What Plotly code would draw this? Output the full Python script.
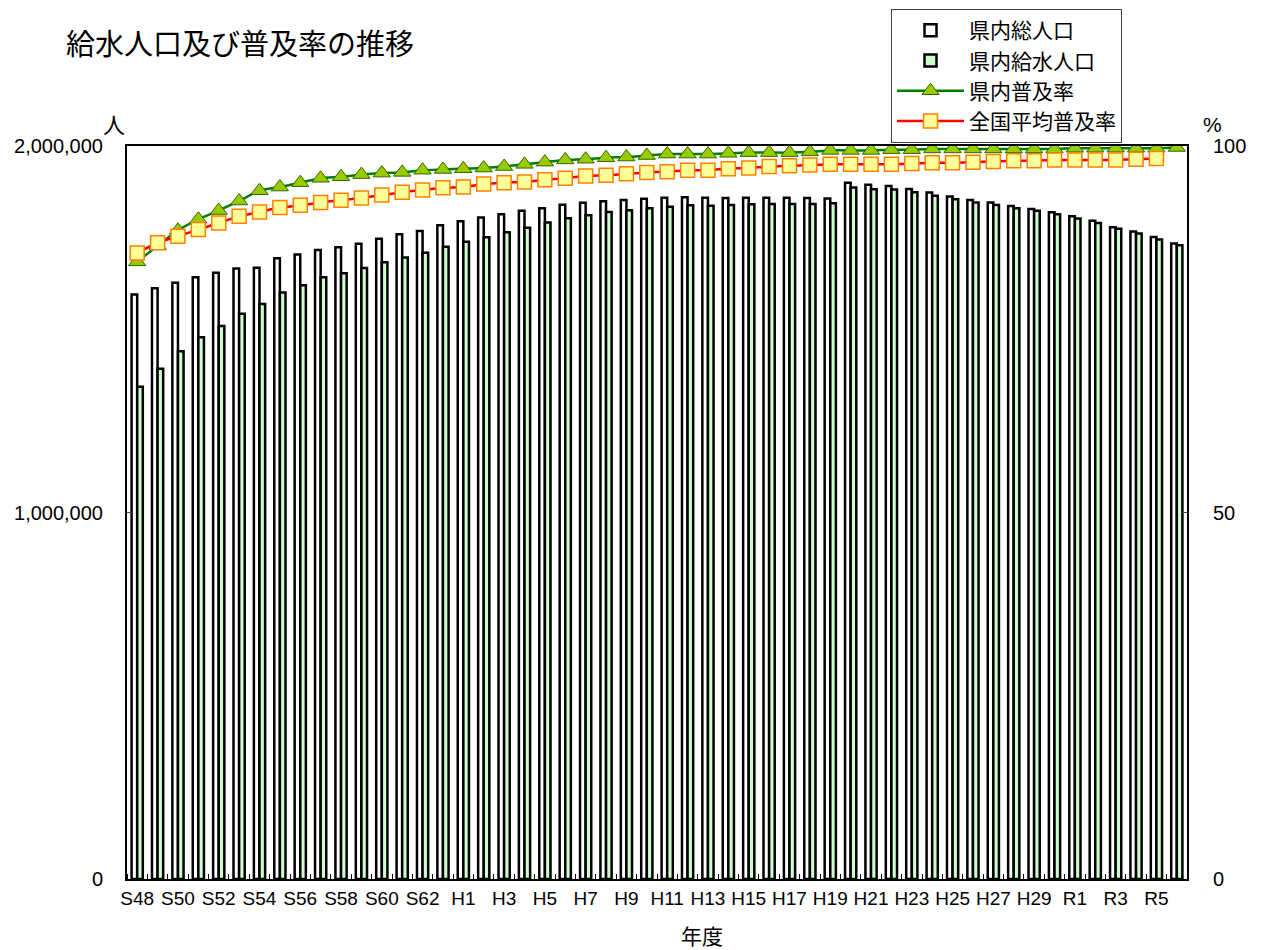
import plotly.graph_objects as go

years = ["S48","S49","S50","S51","S52","S53","S54","S55","S56","S57","S58","S59","S60","S61","S62","S63",
         "H1","H2","H3","H4","H5","H6","H7","H8","H9","H10","H11","H12","H13","H14","H15","H16","H17","H18","H19","H20",
         "H21","H22","H23","H24","H25","H26","H27","H28","H29","H30","R1","R2","R3","R4","R5","R6"]

total_pop = [1595000,1612000,1627000,1642000,1654000,1666000,1668000,1694000,1704000,1716000,1724000,1733000,1747000,1759000,1768000,1784000,
             1795000,1805000,1814000,1823000,1830000,1840000,1845000,1849000,1853000,1856000,1859000,1860000,1859000,1858000,1859000,1859000,1859000,1858000,1857000,1900000,
             1894000,1891000,1883000,1873000,1862000,1853000,1846000,1836000,1828000,1819000,1808000,1796000,1778000,1767000,1752000,1734000]

served_pop = [1343000,1392000,1440000,1478000,1509000,1542000,1569000,1600000,1620000,1642000,1653000,1667000,1683000,1696000,1709000,1725000,
              1739000,1751000,1765000,1777000,1791000,1803000,1811000,1820000,1825000,1830000,1834000,1838000,1837000,1839000,1841000,1842000,1842000,1842000,1844000,1887000,
              1882000,1881000,1874000,1864000,1855000,1846000,1839000,1830000,1823000,1814000,1802000,1790000,1774000,1761000,1745000,1729000]

pref_rate = [84.2,86.4,88.5,90.0,91.2,92.5,93.9,94.4,95.0,95.6,95.8,96.1,96.3,96.4,96.7,96.8,
             96.9,97.0,97.2,97.5,97.8,98.1,98.2,98.4,98.5,98.7,98.9,98.9,98.9,99.0,99.1,99.1,99.1,99.2,99.4,99.4,
             99.4,99.5,99.5,99.6,99.6,99.6,99.6,99.6,99.6,99.6,99.7,99.7,99.7,99.7,99.7,99.8]

national_rate = [85.4,86.8,87.7,88.6,89.5,90.4,91.0,91.6,91.9,92.3,92.6,92.9,93.3,93.7,94.0,94.3,
                 94.4,94.8,95.0,95.1,95.4,95.6,95.9,96.0,96.2,96.4,96.5,96.7,96.7,96.9,97.0,97.2,97.3,97.4,97.5,97.5,
                 97.5,97.5,97.6,97.7,97.7,97.8,97.9,98.0,98.0,98.1,98.1,98.1,98.1,98.2,98.3,None]

tick_labels = ["S48","S50","S52","S54","S56","S58","S60","S62","H1","H3","H5","H7","H9","H11","H13","H15",
               "H17","H19","H21","H23","H25","H27","H29","R1","R3","R5"]

FONT = "Noto Sans CJK JP"
NUMFONT = "Liberation Sans Narrow, Liberation Sans, Noto Sans CJK JP"
xs = list(range(len(years)))
tick_pos = [years.index(t) for t in tick_labels]

# plot area in page pixels: x 127..1187, y 146..879 (page has an 8px body margin)
PX0, PX1, PY0, PY1 = 127, 1187, 146, 879
def px(x):
    return (x - PX0) / (PX1 - PX0)
def py(y):
    return (PY1 - y) / (PY1 - PY0)

fig = go.Figure()
fig.add_trace(go.Bar(x=xs, y=total_pop, name="県内総人口",
                     marker=dict(color="#ffffff", line=dict(color="#000000", width=2.5))))
fig.add_trace(go.Bar(x=xs, y=served_pop, name="県内給水人口",
                     marker=dict(color="#ccffcc", line=dict(color="#000000", width=2.5))))
fig.add_trace(go.Scatter(x=xs, y=pref_rate, name="県内普及率", yaxis="y2", mode="lines+markers",
                         line=dict(color="#008000", width=2.5, shape="spline", smoothing=0.6),
                         marker=dict(symbol="triangle-up", size=15, color="#99cc00",
                                     line=dict(color="#336600", width=1))))
fig.add_trace(go.Scatter(x=xs, y=national_rate, name="全国平均普及率", yaxis="y2", mode="lines+markers",
                         line=dict(color="#ff0000", width=2.5, shape="spline", smoothing=0.6),
                         marker=dict(symbol="square", size=14, color="#ffff99",
                                     line=dict(color="#ff8000", width=1.5))))

fig.update_layout(
    width=1253, height=942,
    margin=dict(l=119, r=74, t=138, b=71, autoexpand=False),
    paper_bgcolor="white", plot_bgcolor="white",
    font=dict(family=FONT, color="#000000", size=16),
    barmode="group", bargap=0.45, bargroupgap=0,
    showlegend=True,
    legend=dict(x=px(891), y=py(9), xanchor="left", yanchor="top",
                bgcolor="white", bordercolor="#404040", borderwidth=1,
                font=dict(family=FONT, size=21), traceorder="normal",
                itemwidth=67, tracegroupgap=0),
    xaxis=dict(range=[-0.5, len(years)-0.5], tickmode="array", tickvals=tick_pos, ticktext=tick_labels,
               ticks="", showgrid=False, zeroline=False, showline=True, linecolor="#000000", linewidth=2,
               mirror=True, tickfont=dict(size=19, family=NUMFONT), ticklabelstandoff=1,
               minor=dict(tickmode="linear", tick0=-0.5, dtick=1, ticks="inside", ticklen=5,
                          tickcolor="#000000", tickwidth=1, showgrid=False)),
    yaxis=dict(range=[0, 2000000], tickvals=[0, 1000000, 2000000], ticktext=["0", "1,000,000", "2,000,000"],
               showgrid=False, zeroline=False, showline=True, linecolor="#000000", linewidth=2,
               ticks="inside", ticklen=5, tickfont=dict(size=20, family=NUMFONT), ticklabelstandoff=18),
    yaxis2=dict(range=[0, 100], tickvals=[0, 50, 100], overlaying="y", side="right",
                showgrid=False, zeroline=False, showline=True, linecolor="#000000", linewidth=2,
                ticks="inside", ticklen=5, tickfont=dict(size=20, family="Liberation Sans, Noto Sans CJK JP"),
                ticklabelstandoff=20),
    annotations=[
        dict(text="給水人口及び普及率の推移", x=px(64), y=py(42), xref="paper", yref="paper",
             xanchor="left", yanchor="middle", showarrow=False, font=dict(size=29, family=FONT)),
        dict(text="人", x=px(114), y=py(123), xref="paper", yref="paper",
             xanchor="center", yanchor="middle", showarrow=False, font=dict(size=22, family=FONT)),
        dict(text="%", x=px(1212), y=py(125), xref="paper", yref="paper",
             xanchor="center", yanchor="middle", showarrow=False, font=dict(size=21, family="Liberation Sans")),
        dict(text="年度", x=px(702), y=py(935), xref="paper", yref="paper",
             xanchor="center", yanchor="middle", showarrow=False, font=dict(size=21, family=FONT)),
    ],
)

fig.write_html("out.html")
